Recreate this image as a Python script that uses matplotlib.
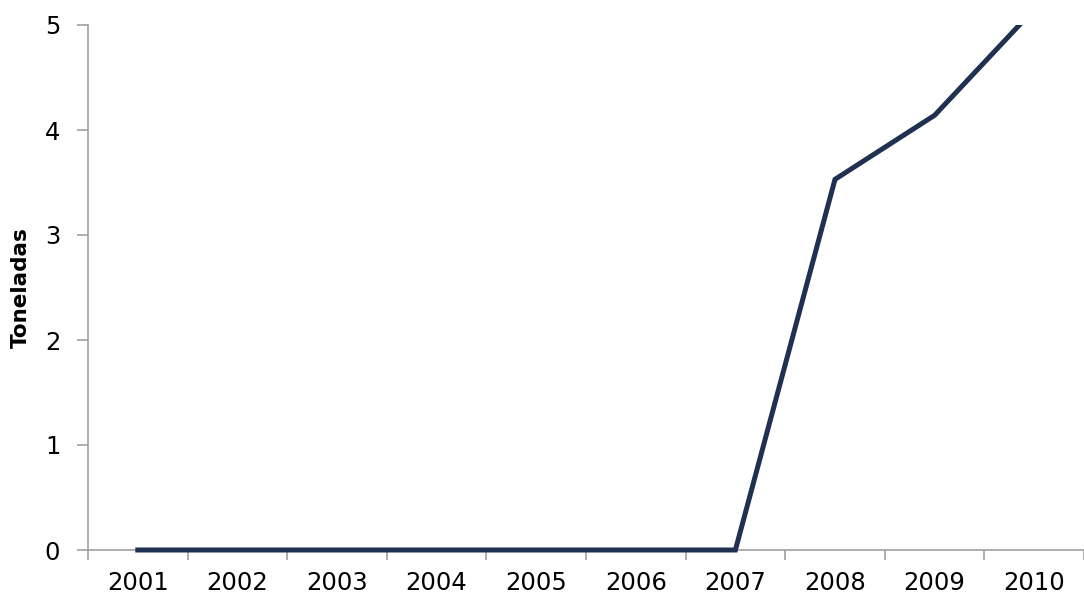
import matplotlib
matplotlib.use("Agg")
import matplotlib.pyplot as plt
from matplotlib.patches import Rectangle
import numpy as np

# Datos (toneladas por año)
years = ['2001', '2002', '2003', '2004', '2005', '2006', '2007', '2008', '2009', '2010']
toneladas = [0, 0, 0, 0, 0, 0, 0, 3.53, 4.14, 5.15]

fig = plt.figure(figsize=(10.84, 5.98), dpi=100)
ax = fig.add_axes([88/1084, 48/598, 996/1084, 525/598])

x = np.arange(len(years))
line, = ax.plot(x, toneladas, color='#1F3050', linewidth=3.6,
                solid_joinstyle='miter', zorder=5)
# recorte solo por arriba (la línea en 0 se dibuja entera sobre el eje)
clip = Rectangle((0, -0.05), 1, 1.05, transform=ax.transAxes)
line.set_clip_path(clip)

ax.set_xlim(-0.5, len(years) - 0.5)
ax.set_ylim(0, 5)

# ticks de categoría entre las etiquetas (estilo Excel)
ax.set_xticks(np.arange(len(years) + 1) - 0.5)
ax.set_xticklabels([])
ax.set_xticks(x, minor=True)
ax.set_xticklabels(years, minor=True)
ax.tick_params(axis='x', which='major', length=7, width=1.2, color='#A0A0A0', direction='out')
ax.tick_params(axis='x', which='minor', length=0, pad=15, labelsize=17.5)
ax.set_yticks(range(6))
ax.tick_params(axis='y', length=8, width=1.2, color='#A0A0A0', direction='out', labelsize=17.5, pad=12)

for s in ['top', 'right']:
    ax.spines[s].set_visible(False)
for s in ['left', 'bottom']:
    ax.spines[s].set_color('#A0A0A0')
    ax.spines[s].set_linewidth(1.2)

ax.set_ylabel('Toneladas', fontsize=15.5, fontweight='bold', labelpad=10)

fig.savefig('out.png', dpi=100)
